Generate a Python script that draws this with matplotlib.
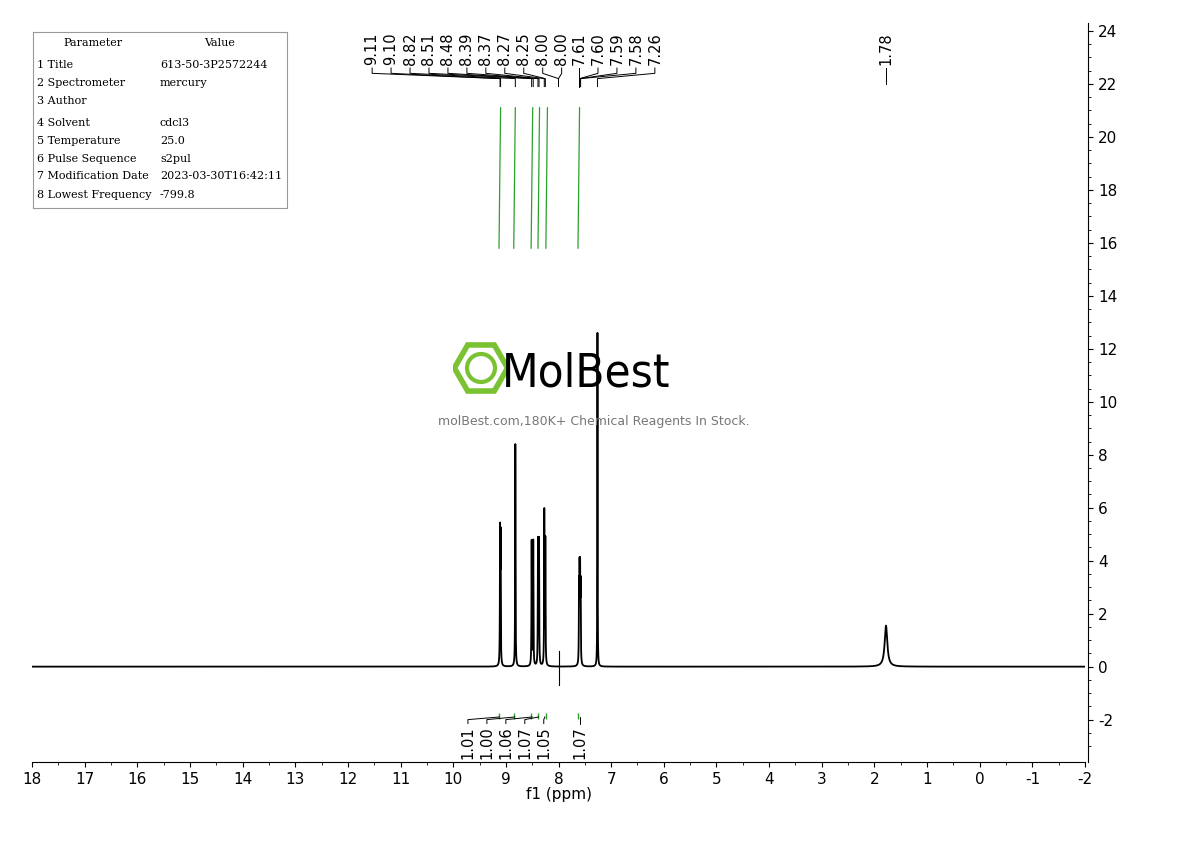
import numpy as np
import matplotlib
matplotlib.use("Agg")
import matplotlib.pyplot as plt
from matplotlib.patches import RegularPolygon, Circle

# peak list (ppm, height, half-width)
peak_ppm = [9.11, 9.10, 8.82, 8.51, 8.48, 8.39, 8.37, 8.27, 8.25, 7.61, 7.60, 7.59, 7.58, 7.26, 1.78]
peak_h   = [4.8, 4.6, 8.4, 4.7, 4.7, 4.7, 4.7, 5.8, 4.7, 2.8, 3.2, 3.2, 2.8, 12.6, 1.55]
peak_w   = [0.004, 0.004, 0.004, 0.004, 0.004, 0.004, 0.004, 0.004, 0.004, 0.004, 0.004, 0.004, 0.004, 0.003, 0.03]

peak_labels = ["9.11", "9.10", "8.82", "8.51", "8.48", "8.39", "8.37", "8.27", "8.25", "8.00", "8.00",
               "7.61", "7.60", "7.59", "7.58", "7.26"]
peak_label_ppm = [9.11, 9.10, 8.82, 8.51, 8.48, 8.39, 8.37, 8.27, 8.25, 8.00, 8.00, 7.61, 7.60, 7.59, 7.58, 7.26]

integ_vals = ["1.01", "1.00", "1.06", "1.07", "1.05", "1.07"]
integ_ppm = [9.12, 8.83, 8.50, 8.38, 8.26, 7.60]
integ_x_lab = [9.72, 9.36, 9.00, 8.64, 8.28, 7.60]

table_params = ["1 Title", "2 Spectrometer", "3 Author", "4 Solvent", "5 Temperature",
                "6 Pulse Sequence", "7 Modification Date", "8 Lowest Frequency"]
table_values = ["613-50-3P2572244", "mercury", "", "cdcl3", "25.0", "s2pul",
                "2023-03-30T16:42:11", "-799.8"]

x = np.linspace(18.2, -2.2, 60000)
y = np.zeros_like(x)
for p, h, w in zip(peak_ppm, peak_h, peak_w):
    y += h / (1 + ((x - p) / w) ** 2)

fig = plt.figure(figsize=(11.9, 8.41), dpi=100)
ax = fig.add_axes([32/1190, 1-762/841, (1085-32)/1190, (762-23)/841])
ax.plot(x, y, color="black", lw=1.3)
ax.plot([8.0, 8.0], [-0.7, 0.6], color="black", lw=0.8)
ax.set_xlim(18, -2)
ax.set_ylim(-3.6, 24.3)
for s in ["top", "left"]:
    ax.spines[s].set_visible(False)
ax.spines["right"].set_position(("data", -2.06))
ax.yaxis.tick_right()
yt = list(range(-2, 25, 2))
ax.set_yticks(yt)
ax.set_yticklabels([str(v) for v in yt])
ax.set_yticks(np.arange(-3, 24.5, 0.5), minor=True)
xt = list(range(-2, 19))
ax.set_xticks(xt)
ax.set_xticklabels([str(v) for v in xt])
ax.set_xticks(np.arange(-2, 18.01, 0.5), minor=True)
ax.tick_params(labelsize=11, direction="out")
ax.set_xlabel("f1 (ppm)", fontsize=11, labelpad=0)

# integration curves
for xs in [9.13, 8.85, 8.52, 8.39, 8.24, 7.63]:
    ax.plot([xs, xs - 0.03], [15.8, 21.1], color="#2ca02c", lw=0.9)
    ax.plot([xs], [-1.85], marker="|", color="#2ca02c", ms=5)
for v, p, xl in zip(integ_vals, integ_ppm, integ_x_lab):
    ax.plot([xl, xl, p], [-2.15, -2.0, -1.9], color="black", lw=0.7)
    ax.text(xl, -2.25, v, rotation=90, ha="center", va="top", fontsize=10.5)

# peak labels
lab_x = [11.54 - i * 0.36 for i in range(11)] + [7.61 - i * 0.36 for i in range(5)]
for lx, lab, p in zip(lab_x, peak_labels, peak_label_ppm):
    ax.plot([lx, lx, p, p], [22.6, 22.4, 22.2, 21.9], color="black", lw=0.7, clip_on=False)
    ax.text(lx, 22.7, lab, rotation=90, ha="center", va="bottom", fontsize=10.5, clip_on=False)
ax.plot([1.78, 1.78], [22.0, 22.6], color="black", lw=0.7)
ax.text(1.78, 22.7, "1.78", rotation=90, ha="center", va="bottom", fontsize=10.5)

# parameter table
tax = fig.add_axes([33/1190, 1-208/841, 254/1190, 176/841])
tax.set_xticks([]); tax.set_yticks([])
for s in tax.spines.values():
    s.set_color("#999999"); s.set_linewidth(0.8)
tax.set_xlim(0, 254); tax.set_ylim(176, 0)
tax.text(60, 11, "Parameter", ha="center", va="center", family="DejaVu Serif", fontsize=8)
tax.text(187, 11, "Value", ha="center", va="center", family="DejaVu Serif", fontsize=8)
rows_y = [33, 51, 69, 91, 109, 127, 144, 163]
for ry, pn, pv in zip(rows_y, table_params, table_values):
    tax.text(4, ry, pn, va="center", family="DejaVu Serif", fontsize=8)
    tax.text(127, ry, pv, va="center", family="DejaVu Serif", fontsize=8)

# watermark
fig.text(594/1190, 1-421/841, "molBest.com,180K+ Chemical Reagents In Stock.", ha="center", va="center",
         fontsize=9, color="#777777")
fig.text(586/1190, 1-374/841, "MolBest", ha="center", va="center", fontsize=34, color="black",
         family="DejaVu Sans", fontstretch="condensed")
wax = fig.add_axes([453/1190, 1-396/841, 56/1190, 56/841])
wax.set_xlim(-1, 1); wax.set_ylim(-1, 1); wax.set_aspect("equal"); wax.axis("off")
wax.add_patch(RegularPolygon((0, 0), 6, radius=0.95, orientation=np.pi/2, fill=False, ec="#7ac231", lw=4))
wax.add_patch(Circle((0, 0), 0.5, fill=False, ec="#7ac231", lw=3))

fig.savefig("out.png", dpi=100)
